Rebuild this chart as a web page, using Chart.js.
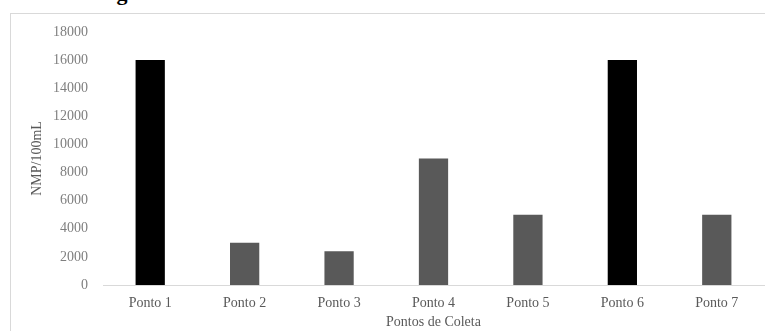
<!DOCTYPE html>
<html>
<head>
<meta charset="utf-8">
<script src="https://cdn.jsdelivr.net/npm/chart.js@4/dist/chart.umd.min.js"></script>
<style>
  html, body { margin: 0; padding: 0; background: #fff; }
  body { width: 765px; height: 331px; position: relative; overflow: hidden; }
  #frame { position: absolute; left: 10px; top: 13px; width: 800px; height: 400px; border: 1px solid #d9d9d9; }
  #caption { position: absolute; left: 97px; top: -18px; font: bold 22px "Liberation Serif", serif; line-height: 22px; color: #000; white-space: nowrap; }
  #chart { position: absolute; left: 0; top: 0; }
</style>
</head>
<body>
<div id="caption">Figura</div>
<div id="frame"></div>
<canvas id="chart" width="765" height="331"></canvas>
<script>
const categories = ['Ponto 1', 'Ponto 2', 'Ponto 3', 'Ponto 4', 'Ponto 5', 'Ponto 6', 'Ponto 7'];
const nmpValues = [16000, 3000, 2400, 9000, 5000, 16000, 5000];
const barColors = ['#000000', '#595959', '#595959', '#595959', '#595959', '#000000', '#595959'];
const yTitle = 'NMP/100mL';
const xTitle = 'Pontos de Coleta';

const serif = '"Liberation Serif", "Times New Roman", serif';

new Chart(document.getElementById('chart').getContext('2d'), {
  type: 'bar',
  data: {
    labels: categories,
    datasets: [{
      data: nmpValues,
      backgroundColor: barColors,
      borderWidth: 0,
      categoryPercentage: 1,
      barPercentage: 0.31
    }]
  },
  options: {
    responsive: false,
    animation: false,
    devicePixelRatio: 1,
    layout: { padding: { left: 25, top: 32, right: 1, bottom: 0 } },
    plugins: { legend: { display: false }, tooltip: { enabled: false } },
    scales: {
      x: {
        grid: { display: false, drawTicks: false },
        border: { display: true, color: '#d9d9d9', width: 1 },
        ticks: { color: '#595959', font: { family: serif, size: 14 }, padding: 10, maxRotation: 0 },
        title: { display: true, text: xTitle, color: '#595959', font: { family: serif, size: 14 }, padding: { top: 0, bottom: 0 } },
        afterFit: s => { s.height = 46; }
      },
      y: {
        min: 0,
        max: 18000,
        grid: { display: false, drawTicks: false },
        border: { display: false },
        ticks: { stepSize: 2000, color: '#7f7f7f', font: { family: serif, size: 14 }, padding: 15, callback: v => String(v) },
        title: { display: true, text: yTitle, color: '#595959', font: { family: serif, size: 14 }, padding: { top: 4, bottom: 4 } },
        afterFit: s => { s.width = 78; }
      }
    }
  }
});
</script>
</body>
</html>
